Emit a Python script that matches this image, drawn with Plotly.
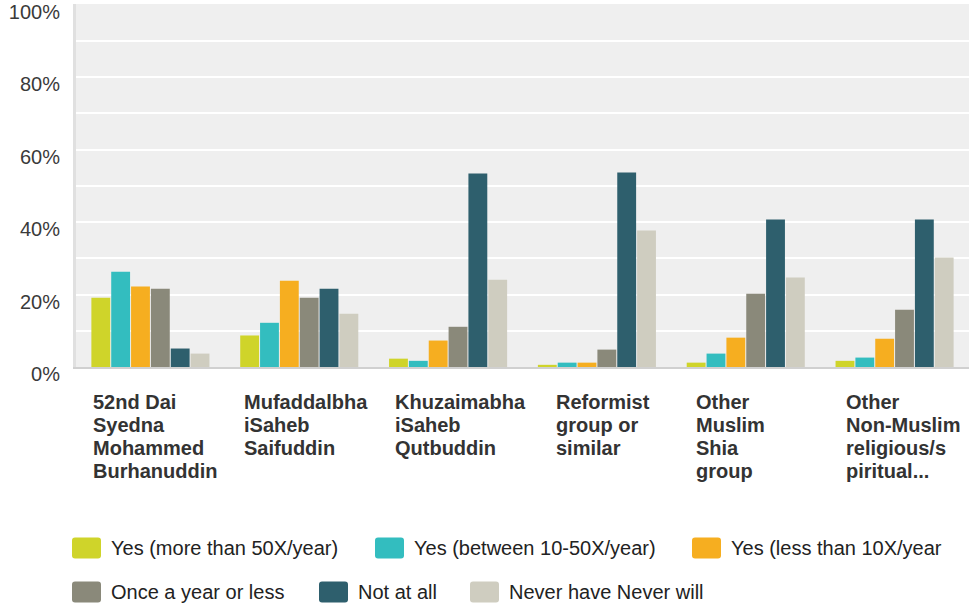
import plotly.graph_objects as go

FONT = "Liberation Sans, Arial, sans-serif"
BG = "#efefef"

CATEGORIES = [
    "52nd Dai<br>Syedna<br>Mohammed<br>Burhanuddin",
    "Mufaddalbha<br>iSaheb<br>Saifuddin",
    "Khuzaimabha<br>iSaheb<br>Qutbuddin",
    "Reformist<br>group or<br>similar",
    "Other<br>Muslim<br>Shia<br>group",
    "Other<br>Non-Muslim<br>religious/s<br>piritual...",
]

SERIES = [
    "Yes (more than 50X/year)",
    "Yes (between 10-50X/year)",
    "Yes (less than 10X/year",
    "Once a year or less",
    "Not at all",
    "Never have Never will",
]
COLORS = ["#cfd42a", "#33bdbf", "#f6ae20", "#8a897a", "#2e5f6d", "#cfcdc0"]

yes_50 = [19.1, 8.7, 2.3, 0.6, 1.2, 1.7]
yes_10_50 = [26.3, 12.2, 1.7, 1.2, 3.7, 2.6]
yes_lt10 = [22.2, 23.8, 7.3, 1.2, 8.1, 7.8]
once_year = [21.6, 19.1, 11.1, 4.8, 20.2, 15.8]
not_at_all = [5.1, 21.6, 53.4, 53.7, 40.7, 40.7]
never = [3.7, 14.7, 24.1, 37.7, 24.7, 30.2]
VALUES = [yes_50, yes_10_50, yes_lt10, once_year, not_at_all, never]

Y_TICKS = [0, 20, 40, 60, 80, 100]
Y_TICK_TEXT = ["0%", "20%", "40%", "60%", "80%", "100%"]

# plot area in pixels (for placing the hand-drawn legend and labels)
W, H = 969, 606
L, R, T, B = 76, 0, 4, 239
PW, PH = W - L - R, H - T - B


def px_x(px):
    return (px - L) / PW


def px_y(py):
    return (H - B - py) / PH


fig = go.Figure()
keys = list(range(len(CATEGORIES)))
for name, vals, color in zip(SERIES, VALUES, COLORS):
    fig.add_trace(go.Bar(
        x=keys, y=vals, name=name,
        marker_color=color, marker_line_width=0,
        showlegend=False,
    ))

annotations = []
label_shift = [-59, -57, -55, -43, -52, -51]
for i, (cat, dx) in enumerate(zip(CATEGORIES, label_shift)):
    for j, line in enumerate(cat.split("<br>")):
        annotations.append(dict(
            x=i, xref="x", y=0, yref="paper",
            text=f"<b>{line}</b>", showarrow=False,
            xanchor="left", yanchor="middle",
            xshift=dx, yshift=-35 - 23 * j,
            font=dict(family=FONT, size=20, color="#333333"),
        ))

# legend drawn by hand: rounded swatches + labels, two rows
legend_pos = [(72, 548), (375, 548), (692, 548), (72, 592), (319, 592), (470, 592)]
shapes = []
sw, sh, rr = 29, 21, 3
for name, color, (lx, ly) in zip(SERIES, COLORS, legend_pos):
    path = (
        f"M {rr},0 L {sw - rr},0 Q {sw},0 {sw},{rr} L {sw},{sh - rr} "
        f"Q {sw},{sh} {sw - rr},{sh} L {rr},{sh} Q 0,{sh} 0,{sh - rr} "
        f"L 0,{rr} Q 0,0 {rr},0 Z"
    )
    shapes.append(dict(
        type="path", xref="paper", yref="paper",
        xsizemode="pixel", ysizemode="pixel",
        xanchor=px_x(lx), yanchor=px_y(ly + sh / 2),
        path=path, fillcolor=color, line_width=0,
    ))
    annotations.append(dict(
        x=px_x(lx + 37), y=px_y(ly), xref="paper", yref="paper",
        text=name, showarrow=False, xanchor="left", yanchor="middle",
        font=dict(family=FONT, size=20, color="#222222"),
    ))

fig.update_layout(
    width=W, height=H,
    margin=dict(l=L, r=R, t=T, b=B),
    paper_bgcolor="white",
    plot_bgcolor=BG,
    barmode="group",
    bargap=0.2,
    bargroupgap=0.05,
    font=dict(family=FONT, size=20, color="#333333"),
    showlegend=False,
    annotations=annotations,
    shapes=shapes,
    xaxis=dict(
        showticklabels=False, showgrid=False, zeroline=False,
        showline=True, linecolor="#d0d0d0", linewidth=2,
        range=[-0.5, len(CATEGORIES) - 0.5],
        fixedrange=True,
    ),
    yaxis=dict(
        range=[0, 100.2],
        tickvals=Y_TICKS, ticktext=Y_TICK_TEXT,
        showgrid=True, gridcolor="white", gridwidth=2,
        minor=dict(dtick=10, showgrid=True, gridcolor="white", gridwidth=2),
        zeroline=False,
        showline=True, linecolor="#e0e0e0", linewidth=3,
        ticklabelshift=7, ticklabelstandoff=9,
        tickfont=dict(family=FONT, size=20, color="#3a3a3a"),
    ),
)

fig.write_html(
    "out.html",
    config={"displayModeBar": False},
    post_script="document.body.style.margin='0';",
)
